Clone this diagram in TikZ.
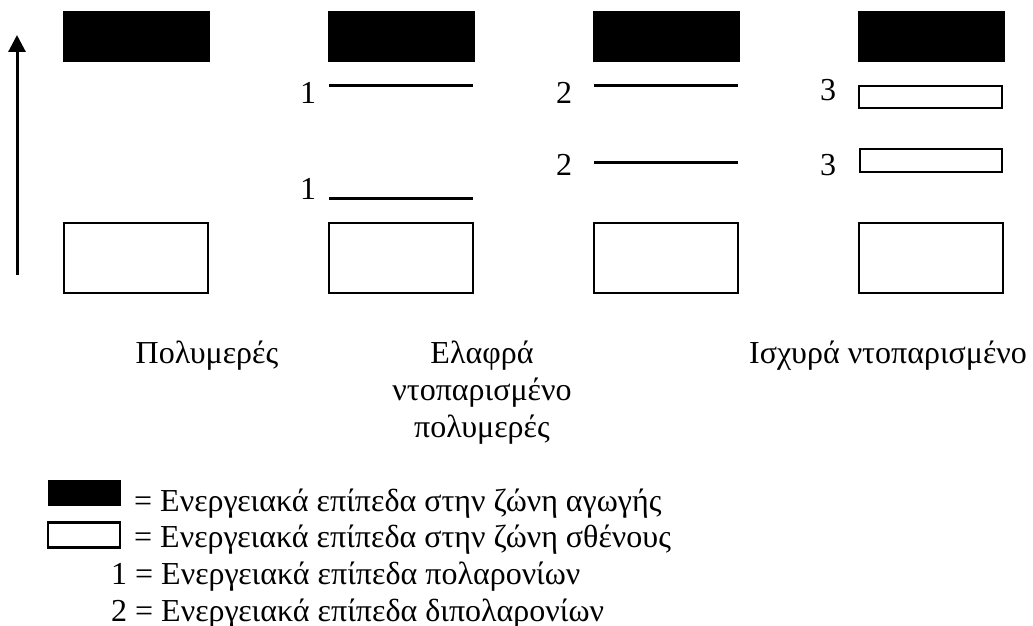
\documentclass[tikz,border=0pt]{standalone}
\usepackage{fontspec}
\setmainfont{Liberation Serif}
\usetikzlibrary{arrows.meta}
\tikzset{every node/.append style={align=center}}
\tikzset{
  condband/.style={fill=black, draw=black, line width=1pt},
  valband/.style={fill=white, draw=black, line width=2.4pt},
  gaplevel/.style={draw=black, line width=3pt},
  bigtxt/.style={font=\fontsize{32}{37}\selectfont, inner sep=0pt},
}

\begin{document}
\begin{tikzpicture}[x=1pt, y=-1pt]
\useasboundingbox (0,0) rectangle (1033,626);

% ── Energy axis ──────────────────────────────────────────────────────────────
\coordinate (axbot) at (17,275);
\coordinate (axtop) at (17,35);
\draw[line width=3pt, -{Triangle[width=17pt, length=17pt]}] (axbot) -- (axtop);

% ── Conduction / valence bands, four columns ─────────────────────────────────
\foreach \i in {0,...,3} {
  \draw[condband] (63+\i*265, 12) rectangle (209+\i*265, 62);
  \draw[valband]  (64+\i*265, 223) rectangle (208+\i*265, 293);
}

% ── States in the gap ────────────────────────────────────────────────────────
\draw[gaplevel] (329,85)  -- (473,85);
\draw[gaplevel] (329,198) -- (473,198);
\draw[gaplevel] (594,85)  -- (738,85);
\draw[gaplevel] (594,162) -- (738,162);
\draw[valband] (859,86)  rectangle (1002,108);
\draw[valband] (860,149) rectangle (1002,172);

% Level numbers
\foreach \x/\y/\t [count=\n] in {308/103/1, 308/199/1, 564/103/2,
                                 564/175/2, 828/100/3, 828/175/3} {
  \node[bigtxt, anchor=base] (num\n) at (\x,\y) {\t};
}

% ── Column captions ──────────────────────────────────────────────────────────
\node[bigtxt, anchor=base] (cappoly)   at (207,363) {Πολυμερές};
\node[bigtxt, anchor=base] (caplight)  at (482,437)
      {Ελαφρά\\ντοπαρισμένο\\πολυμερές};
\node[bigtxt, anchor=base] (capstrong) at (888,363) {Ισχυρά ντοπαρισμένο};

% ── Legend ───────────────────────────────────────────────────────────────────
\node[condband, minimum width=72pt, minimum height=25pt, inner sep=0pt]
     (keycond) at (84,493) {};
\node[valband, minimum width=72pt, minimum height=25pt, inner sep=0pt]
     (keyval) at (84,535) {};
\node[bigtxt, anchor=base west] (legcond) at (134,511)
     {= Ενεργειακά επίπεδα στην ζώνη αγωγής};
\node[bigtxt, anchor=base west] (legval)  at (134,547)
     {= Ενεργειακά επίπεδα στην ζώνη σθένους};
\node[bigtxt, anchor=base west] (legpol)  at (111,584)
     {1 = Ενεργειακά επίπεδα πολαρονίων};
\node[bigtxt, anchor=base west] (legbip)  at (111,621)
     {2 = Ενεργειακά επίπεδα διπολαρονίων};

\end{tikzpicture}
\end{document}
